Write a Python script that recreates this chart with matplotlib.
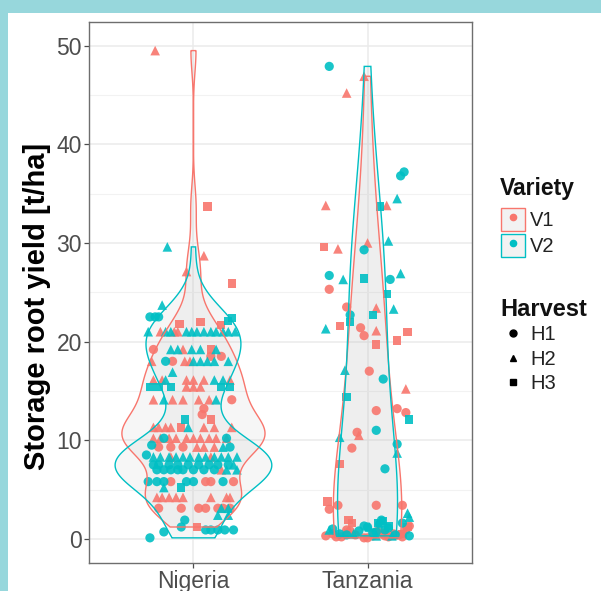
import numpy as np
import matplotlib
matplotlib.use("Agg")
import matplotlib.pyplot as plt
from matplotlib.patches import Rectangle, Patch
from matplotlib.lines import Line2D
from matplotlib.legend_handler import HandlerTuple

plt.rcParams['font.family'] = ['Liberation Sans', 'DejaVu Sans']

# ---------------- data ----------------
countries = ["Nigeria", "Tanzania"]
varieties = ["V1", "V2"]
harvests = ["H1", "H2", "H3"]

# Nigeria
nga_v1_h1_y = [19.2, 18.5, 18.5, 18.0, 14.1, 13.2, 12.6, 9.3, 9.3, 9.3, 5.8, 5.8, 5.8, 5.8,
               3.1, 3.1, 3.1, 3.1, 3.1, 3.1, 3.1]
nga_v1_h1_j = [-0.23, 0.10, 0.16, -0.12, 0.22, 0.06, 0.05, -0.20, -0.13, -0.06, -0.13, 0.07, 0.10, 0.23,
               -0.20, -0.07, 0.03, 0.07, 0.14, 0.17, 0.21]
nga_v1_h2_y = [49.5, 28.7, 27.1, 21.0, 21.0, 21.0, 19.2, 18.0, 18.0, 18.0,
               16.1, 16.1, 16.1, 16.1, 16.1, 16.1, 15.4, 15.4, 15.4,
               14.1, 14.1, 14.1, 14.1, 14.1,
               11.3, 11.3, 11.3, 11.3, 11.3, 11.3, 11.3,
               10.2, 10.2, 10.2, 10.2, 10.2, 10.2, 10.2, 10.2, 10.2, 10.2,
               9.3, 9.3, 9.3, 8.3, 8.3, 7.0,
               4.2, 4.2, 4.2, 4.2, 4.2, 4.2, 4.2, 4.2]
nga_v1_h2_j = [-0.22, 0.06, -0.04, -0.19, -0.11, -0.09, -0.06, -0.24, -0.05, -0.02,
               -0.23, -0.18, -0.04, 0.0, 0.06, 0.21, -0.04, 0.0, 0.04,
               -0.23, -0.12, -0.06, 0.03, 0.09,
               -0.23, -0.20, -0.16, -0.13, 0.06, 0.12, 0.22,
               -0.23, -0.19, -0.14, -0.10, -0.04, 0.0, 0.04, 0.09, 0.13, 0.19,
               0.02, 0.06, 0.12, -0.13, 0.10, 0.16,
               -0.21, -0.18, -0.14, -0.10, -0.06, 0.10, 0.19, 0.21]
nga_v1_h3_y = [33.7, 25.9, 21.8, 22.0, 21.7, 19.2, 12.1, 11.3, 1.2]
nga_v1_h3_j = [0.08, 0.22, -0.08, 0.04, 0.16, 0.10, 0.10, -0.07, 0.02]

nga_v2_h1_y = [22.5, 22.5, 22.5, 18.0, 10.2, 10.2, 9.5, 9.3, 8.5,
               7.5, 7.5, 7.5, 7.5, 7.5, 7.5, 7.5, 7.5, 7.5,
               7.0, 7.0, 7.0, 7.0, 7.0, 7.0, 7.0, 7.0,
               5.8, 5.8, 5.8, 5.8, 5.8, 5.8,
               1.9, 1.2, 0.9, 0.9, 0.9, 0.9, 0.9, 0.7, 0.1]
nga_v2_h1_j = [-0.25, -0.22, -0.20, -0.16, -0.17, 0.19, -0.24, 0.21, -0.27,
               -0.23, -0.20, -0.14, -0.09, -0.03, 0.03, 0.09, 0.14, 0.20,
               -0.21, -0.17, -0.13, -0.09, -0.06, 0.0, 0.06, 0.12,
               -0.26, -0.21, -0.17, -0.04, 0.0, 0.17,
               -0.05, -0.07, 0.07, 0.10, 0.14, 0.18, 0.23, -0.17, -0.25]
nga_v2_h2_y = [29.6, 23.7,
               21.0, 21.0, 21.0, 21.0, 21.0, 21.0, 21.0, 21.0, 21.0, 21.0, 21.0, 21.0,
               19.2, 19.2, 19.2, 19.2, 19.2,
               18.0, 18.0, 18.0, 18.0, 18.0,
               16.9, 16.1, 16.1, 16.1, 14.1, 14.1, 11.3, 9.3,
               8.3, 8.3, 8.3, 8.3, 8.3, 8.3, 8.3, 8.3, 8.3, 8.3, 8.3, 8.3,
               7.5, 7.0, 7.0, 5.2, 3.1, 3.1, 2.4, 2.4]
nga_v2_h2_j = [-0.15, -0.18,
               -0.26, -0.16, -0.13, -0.04, -0.01, 0.02, 0.06, 0.10, 0.13, 0.17, 0.20, 0.24,
               -0.13, -0.09, -0.01, 0.04, 0.13,
               0.0, 0.04, 0.08, 0.12, 0.20,
               -0.12, -0.16, 0.12, 0.17, -0.17, 0.13, -0.03, 0.17,
               -0.23, -0.19, -0.14, -0.10, -0.06, -0.02, 0.03, 0.07, 0.12, 0.16, 0.20, 0.25,
               0.23, 0.19, 0.25, -0.17, 0.16, 0.20, 0.14, 0.20]
nga_v2_h3_y = [22.1, 22.4, 15.4, 15.4, 15.4, 15.4, 15.4, 12.1, 5.2]
nga_v2_h3_j = [0.20, 0.22, -0.25, -0.20, -0.13, 0.16, 0.21, -0.05, -0.07]

# Tanzania
tza_v1_h1_y = [25.3, 23.5, 21.4, 20.6, 17.0, 13.0, 13.2, 12.8, 10.8, 9.2, 3.4, 3.4, 3.4, 3.0,
               0.3, 0.5, 0.2, 0.8, 0.1, 0.3, 0.6, 0.2, 0.4, 0.9, 1.3,
               0.2, 0.4, 0.1, 0.7, 0.3, 0.5, 0.2, 0.9]
tza_v1_h1_j = [-0.22, -0.12, -0.04, -0.02, 0.01, 0.05, 0.17, 0.22, -0.06, -0.09, -0.17, 0.05, 0.20, -0.22,
               -0.24, -0.20, -0.15, -0.10, 0.0, 0.03, 0.08, 0.12, 0.18, 0.22, 0.24,
               -0.18, -0.07, -0.02, 0.05, 0.10, 0.15, 0.20, -0.12]
tza_v1_h2_y = [46.9, 45.2, 33.8, 33.8, 29.4, 30.0, 23.4, 21.1, 15.2, 10.5, 0.6, 1.0, 0.4]
tza_v1_h2_j = [-0.02, -0.12, -0.24, 0.11, -0.17, 0.0, 0.05, 0.05, 0.22, -0.05, -0.13, 0.06, 0.15]
tza_v1_h3_y = [29.6, 21.6, 21.0, 20.1, 19.7, 7.6, 3.8, 1.9, 1.6, 0.5, 1.2]
tza_v1_h3_j = [-0.25, -0.16, 0.23, 0.17, 0.05, -0.16, -0.23, -0.11, -0.09, 0.20, 0.23]

tza_v2_h1_y = [47.9, 36.8, 37.2, 29.3, 26.7, 26.3, 22.7, 16.2, 11.0, 9.6, 7.1,
               1.0, 0.8, 1.2, 0.6, 1.5, 0.9, 0.4, 1.1, 0.3,
               0.5, 1.3, 0.7, 1.9, 0.4, 1.6]
tza_v2_h1_j = [-0.22, 0.19, 0.21, -0.02, -0.22, 0.13, -0.10, 0.09, 0.05, 0.17, 0.10,
               -0.20, -0.05, 0.0, 0.03, 0.07, 0.10, -0.12, 0.12, 0.24,
               -0.16, -0.02, 0.05, 0.08, 0.16, 0.20]
tza_v2_h2_y = [34.5, 30.2, 26.3, 26.9, 23.3, 21.3, 17.1, 10.3, 8.7, 2.6, 2.2, 0.5, 0.3,
               0.9, 1.2, 0.3]
tza_v2_h2_j = [0.17, 0.12, -0.14, 0.19, 0.15, -0.24, -0.13, -0.16, 0.17, 0.23, 0.24, -0.08, 0.05,
               -0.22, 0.01, 0.14]
tza_v2_h3_y = [33.7, 26.4, 24.8, 22.7, 22.0, 14.4, 12.1, 1.8, 1.6, 1.3]
tza_v2_h3_j = [0.07, -0.02, 0.11, 0.03, -0.10, -0.12, 0.24, 0.09, 0.06, 0.12]

yticks = [0, 10, 20, 30, 40, 50]

data = {
    ("Nigeria", "V1", "H1"): (nga_v1_h1_y, nga_v1_h1_j),
    ("Nigeria", "V1", "H2"): (nga_v1_h2_y, nga_v1_h2_j),
    ("Nigeria", "V1", "H3"): (nga_v1_h3_y, nga_v1_h3_j),
    ("Nigeria", "V2", "H1"): (nga_v2_h1_y, nga_v2_h1_j),
    ("Nigeria", "V2", "H2"): (nga_v2_h2_y, nga_v2_h2_j),
    ("Nigeria", "V2", "H3"): (nga_v2_h3_y, nga_v2_h3_j),
    ("Tanzania", "V1", "H1"): (tza_v1_h1_y, tza_v1_h1_j),
    ("Tanzania", "V1", "H2"): (tza_v1_h2_y, tza_v1_h2_j),
    ("Tanzania", "V1", "H3"): (tza_v1_h3_y, tza_v1_h3_j),
    ("Tanzania", "V2", "H1"): (tza_v2_h1_y, tza_v2_h1_j),
    ("Tanzania", "V2", "H2"): (tza_v2_h2_y, tza_v2_h2_j),
    ("Tanzania", "V2", "H3"): (tza_v2_h3_y, tza_v2_h3_j),
}

# ---------------- styles ----------------
colors = {"V1": "#F8766D", "V2": "#00BFC4"}
markers = {"H1": "o", "H2": "^", "H3": "s"}
msize = {"H1": 44, "H2": 48, "H3": 36}
bw_adjust = {"Nigeria": 1.0, "Tanzania": 1.7}

W, H = 601, 591
fig = plt.figure(figsize=(W / 100, H / 100), dpi=100)
fig.patch.set_facecolor("#97D7DC")
fig.add_artist(Rectangle((8 / W, 0), 1, (H - 13) / H, transform=fig.transFigure,
                         facecolor="white", edgecolor="none", zorder=0))

ax = fig.add_axes([89 / W, 1 - 563 / H, (472 - 89) / W, (563 - 22) / H])
ax.set_xlim(0.4, 2.6)
ax.set_ylim(-2.45, 52.4)
ax.set_facecolor("white")

# grid
ax.set_yticks(yticks)
ax.set_yticks([5, 15, 25, 35, 45], minor=True)
ax.set_xticks([1, 2])
ax.set_xticklabels(countries)
ax.grid(True, which="major", color="#EBEBEB", lw=1.1, zorder=0)
ax.grid(True, which="minor", axis="y", color="#F2F2F2", lw=0.8, zorder=0)
ax.set_axisbelow(True)
ax.tick_params(which="minor", length=0)
ax.tick_params(which="major", length=3.5, width=0.9, color="#4D4D4D", labelcolor="#4D4D4D",
               labelsize=16.5, pad=1.5)
for s in ax.spines.values():
    s.set_color("#6E6E6E")
    s.set_linewidth(1.0)
ax.set_ylabel("Storage root yield [t/ha]", fontsize=21, fontweight="bold", color="black")
ax.yaxis.set_label_coords(-0.098, 0.475)


def nrd0(x):
    x = np.asarray(x, float)
    sd = x.std(ddof=1)
    iqr = np.subtract(*np.percentile(x, [75, 25]))
    lo = min(sd, iqr / 1.34) if iqr > 0 else sd
    return 0.9 * lo * len(x) ** (-0.2)


def kde(x, grid, bw):
    x = np.asarray(x, float)
    z = (grid[:, None] - x[None, :]) / bw
    return np.exp(-0.5 * z ** 2).sum(axis=1) / (len(x) * bw * np.sqrt(2 * np.pi))


# violins (scale = "area": common scaling)
dens = {}
for ci, c in enumerate(countries):
    for v in varieties:
        vals = np.concatenate([data[(c, v, h)][0] for h in harvests])
        grid = np.linspace(vals.min(), vals.max(), 512)
        dens[(c, v)] = (ci + 1, grid, kde(vals, grid, nrd0(vals) * bw_adjust[c]))
gmax = max(d[2].max() for d in dens.values())
for (c, v), (pos, grid, d) in dens.items():
    hw = 0.45 * d / gmax
    xs = np.concatenate([pos - hw, (pos + hw)[::-1]])
    ys = np.concatenate([grid, grid[::-1]])
    ax.fill(xs, ys, facecolor="#BBBBBB", alpha=0.13, edgecolor="none", zorder=2)
    ax.fill(xs, ys, facecolor="none", edgecolor=colors[v], lw=1.0, zorder=4)

# points
for (c, v, h), (ys, js) in data.items():
    pos = countries.index(c) + 1
    ax.scatter(pos + np.asarray(js), ys, s=msize[h], marker=markers[h], color=colors[v],
               edgecolors="none", alpha=0.9, zorder=3)

# legends (titles drawn as separate texts)
fig.text(500 / W, 1 - 188 / H, "Variety", fontsize=16.5, fontweight="bold", color="#111111",
         ha="left", va="center")
ph = [(Patch(facecolor="#F2F2F2", edgecolor=colors[v], lw=1.0),
       Line2D([], [], marker="o", color=colors[v], ls="none", markersize=4.5)) for v in varieties]
leg1 = fig.legend(ph, varieties, loc="upper left", bbox_to_anchor=(501 / W, 1 - 208 / H),
                  frameon=False, fontsize=14.5,
                  handler_map={tuple: HandlerTuple(ndivide=1, pad=0)},
                  handlelength=1.2, handleheight=1.4, handletextpad=0.25, labelspacing=0.12,
                  borderpad=0, borderaxespad=0)
for t in leg1.get_texts():
    t.set_color("#222222")

fig.text(500 / W, 1 - 310 / H, "Harvest", fontsize=17, fontweight="bold", color="#111111",
         ha="left", va="center")
hh = [Line2D([], [], marker=markers[h], color="black", ls="none", markersize=5) for h in harvests]
leg2 = fig.legend(hh, harvests, loc="upper left", bbox_to_anchor=(501 / W, 1 - 325 / H),
                  frameon=False, fontsize=14.5,
                  handlelength=1.2, handletextpad=0.25, labelspacing=0.28,
                  borderpad=0, borderaxespad=0)
for t in leg2.get_texts():
    t.set_color("#222222")

fig.savefig("out.png", dpi=100, facecolor=fig.get_facecolor())
